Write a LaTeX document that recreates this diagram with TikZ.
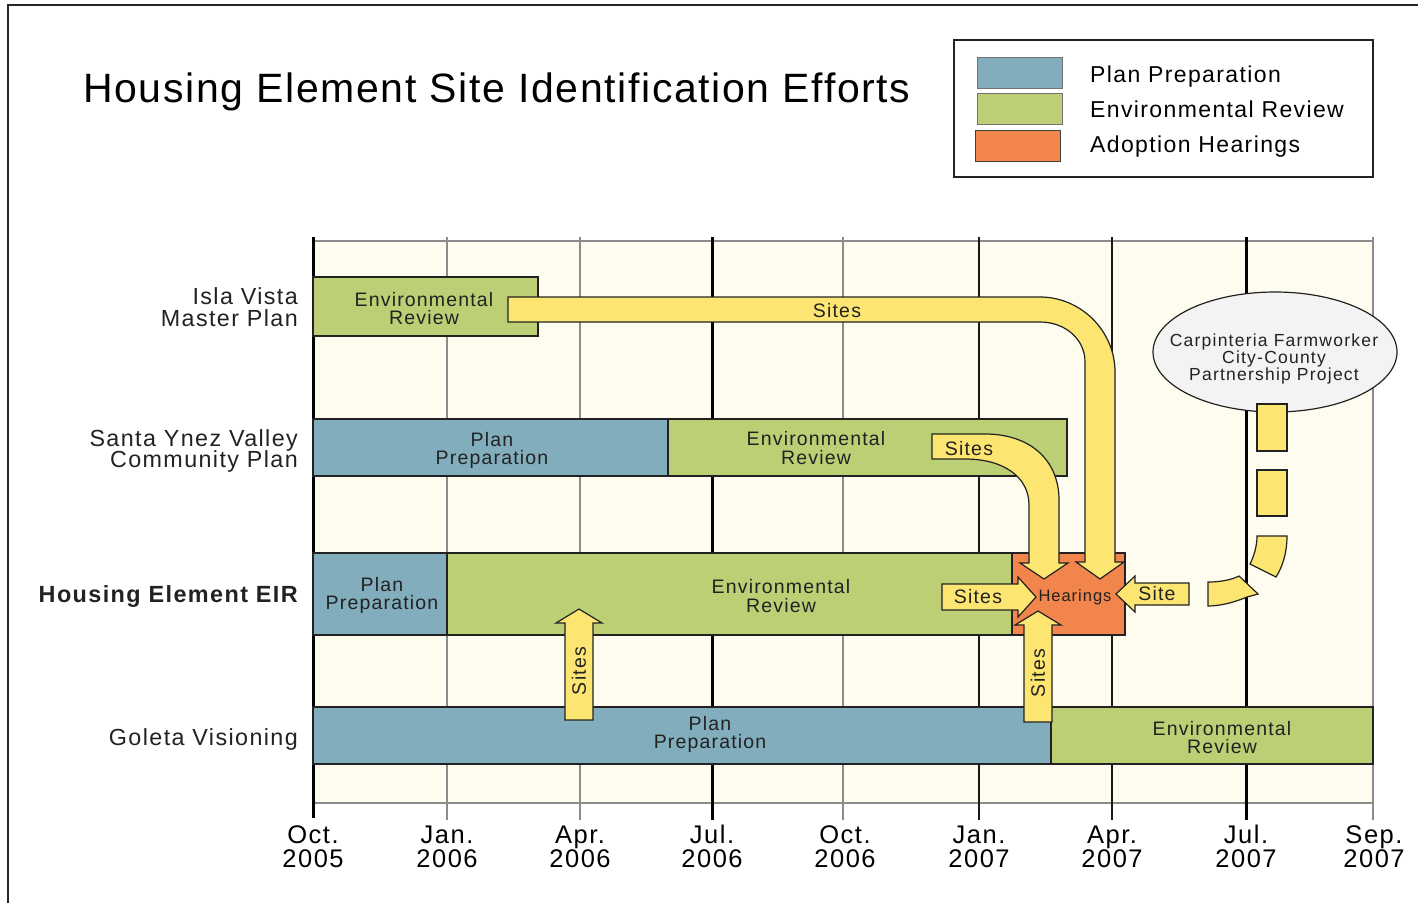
\documentclass[tikz,border=0pt]{standalone}
\usepackage{fontspec}
\setmainfont{Liberation Sans}
\newfontfamily\lsp{Liberation Sans}[LetterSpace=6]
\newfontfamily\lspe{Liberation Sans}[LetterSpace=7]
\newfontfamily\lspt{Liberation Sans}[LetterSpace=4]
\usetikzlibrary{shapes.geometric}
\newcommand\myfs[1]{\fontsize{#1}{#1}\selectfont}
\definecolor{cBlue}{HTML}{82ADBD}
\definecolor{cGreen}{HTML}{BDCF75}
\definecolor{cOrange}{HTML}{F2854C}
\definecolor{cYellow}{HTML}{FDE572}
\definecolor{cCream}{HTML}{FEFCEE}
\definecolor{cGrid}{HTML}{8C8C8C}
\definecolor{cInk}{HTML}{222222}
\definecolor{cEll}{HTML}{F3F3F3}
\begin{document}
\begin{tikzpicture}[x=1pt,y=-1pt,
 barbox/.style={draw=cInk, line width=1.2pt, inner sep=0pt},
 blu/.style={barbox, fill=cBlue},
 grn/.style={barbox, fill=cGreen},
 org/.style={barbox, fill=cOrange},
 bartxt/.style={font=\lsp\myfs{19.5}, text=cInk, inner sep=0pt, anchor=base},
 arrtxt/.style={font=\lsp\myfs{19.5}, text=cInk, inner sep=0pt},
 rowlbl/.style={font=\lsp\myfs{23.3}, text=cInk, inner sep=0pt, anchor=base east},
 axlbl/.style={font=\lsp\myfs{25.5}, text=black, inner sep=0pt, anchor=base},
 legtxt/.style={font=\lsp\myfs{23}, text=black, inner sep=0pt, anchor=base west},
 elltxt/.style={font=\lspe\myfs{17.5}, text=cInk, inner sep=0pt, anchor=base},
 swatch/.style={draw=black!55, line width=1pt, inner sep=0pt, minimum width=85pt, minimum height=31pt},
 blockarrow/.style={fill=cYellow, draw=cInk, line width=1.2pt, line join=miter},
 gridthick/.style={draw=black, line width=3pt},
 gridthin/.style={draw=black!90, line width=1.5pt},
 gridgrey/.style={draw=cGrid, line width=2.2pt},
]
\useasboundingbox (0,0) rectangle (1418,903);
\fill[white] (0,0) rectangle (1418,903);
\draw[line width=2pt, black!85] (8,903) -- (8,5) -- (1418,5);

% title
\node[anchor=base west, inner sep=0pt, font=\lspt\myfs{41}] (title) at (83,102) {Housing Element Site Identification Efforts};

% legend
\draw[line width=2.5pt, draw=cInk] (954,40) rectangle (1373,177);
\node[swatch, fill=cBlue] (swPP) at (1019.5,72.5) {};
\node[swatch, fill=cGreen] (swER) at (1019.5,109) {};
\node[swatch, fill=cOrange, draw=black!75] (swAH) at (1017.5,146) {};
\node[legtxt] (lgPP) at (1090,82) {Plan Preparation};
\node[legtxt] (lgER) at (1090,117) {Environmental Review};
\node[legtxt] (lgAH) at (1090,152) {Adoption Hearings};

% chart background and grid
\fill[cCream] (313,241) rectangle (1373,803);
\draw[cGrid, line width=2pt] (313,241) -- (1373,241);
\draw[cGrid, line width=2pt] (313,803) -- (1373,803);
\draw[gridthick] (313,237) -- (313,818);
\draw[gridgrey] (447,237) -- (447,820);
\draw[gridgrey] (580,237) -- (580,820);
\draw[gridthick] (712,237) -- (712,820);
\draw[gridgrey] (843,237) -- (843,820);
\draw[gridthin] (979,237) -- (979,820);
\draw[gridthin] (1112,237) -- (1112,820);
\draw[gridthick] (1246,237) -- (1246,820);
\draw[gridgrey] (1373,237) -- (1373,820);

% axis labels
\foreach \xx/\mm/\yy [count=\i] in {313/Oct./2005, 447/Jan./2006, 580/Apr./2006, 712/Jul./2006, 845/Oct./2006, 979/Jan./2007, 1112/Apr./2007, 1246/Jul./2007, 1374/Sep./2007}{
  \node[axlbl] (axm\i) at (\xx,843) {\mm};
  \node[axlbl] (axy\i) at (\xx,867) {\yy};
}

% row labels
\node[rowlbl] (rIV1) at (298,304) {Isla Vista};
\node[rowlbl] (rIV2) at (298,326) {Master Plan};
\node[rowlbl] (rSY1) at (298,446) {Santa Ynez Valley};
\node[rowlbl] (rSY2) at (298,467) {Community Plan};
\node[rowlbl, font=\lsp\bfseries\myfs{23.4}] (rHE) at (298,602) {Housing Element EIR};
\node[rowlbl] (rGO) at (298,745) {Goleta Visioning};

% bars
\node[grn, minimum width=225pt, minimum height=59pt] (ivER) at (425.5,306.5) {};
\node[blu, minimum width=355pt, minimum height=57pt] (syPP) at (490.5,447.5) {};
\node[grn, minimum width=399pt, minimum height=57pt] (syER) at (867.5,447.5) {};
\node[blu, minimum width=134pt, minimum height=82pt] (hePP) at (380,594) {};
\node[grn, minimum width=565pt, minimum height=82pt] (heER) at (729.5,594) {};
\node[org, minimum width=113pt, minimum height=82pt] (heAH) at (1068.5,594) {};
\node[blu, minimum width=738pt, minimum height=57pt] (goPP) at (682,735.5) {};
\node[grn, minimum width=322pt, minimum height=57pt] (goER) at (1212,735.5) {};

% bar texts
\node[bartxt] (tIV1) at (424,306) {Environmental};
\node[bartxt] (tIV2) at (424,324) {Review};
\node[bartxt] (tSY1) at (492,446) {Plan};
\node[bartxt] (tSY2) at (492,464) {Preparation};
\node[bartxt] (tSY3) at (816,445) {Environmental};
\node[bartxt] (tSY4) at (816,464) {Review};
\node[bartxt] (tHE1) at (382,591) {Plan};
\node[bartxt] (tHE2) at (382,609) {Preparation};
\node[bartxt] (tHE3) at (781,593) {Environmental};
\node[bartxt] (tHE4) at (781,612) {Review};
\node[bartxt] (tGO1) at (710,730) {Plan};
\node[bartxt] (tGO2) at (710,748) {Preparation};
\node[bartxt] (tGO3) at (1222,735) {Environmental};
\node[bartxt] (tGO4) at (1222,753) {Review};
\node[bartxt, font=\lsp\myfs{16.5}] (tHE5) at (1075,601) {Hearings};

% block arrows
\path[blockarrow] (508,297) -- (1040,297) .. controls (1081,297) and (1115,331) .. (1115,372)
  -- (1115,562) -- (1124,562) -- (1100,579) -- (1076,562) -- (1085,562) -- (1085,362)
  .. controls (1085,339) and (1065,322) .. (1040,322) -- (508,322) -- cycle;
\path[blockarrow] (932,434) -- (985,434) .. controls (1030,434) and (1059,460) .. (1059,500)
  -- (1059,563) -- (1068,563) -- (1044,579) -- (1020,563) -- (1029,563) -- (1029,505)
  .. controls (1029,478) and (1005,459) .. (965,459) -- (932,459) -- cycle;
\path[blockarrow] (942,584) -- (1018,584) -- (1018,577) -- (1036,597) -- (1018,617) -- (1018,610) -- (942,610) -- cycle;
\path[blockarrow] (1189,583) -- (1135,583) -- (1135,576) -- (1116,594) -- (1135,612) -- (1135,605) -- (1189,605) -- cycle;
\path[blockarrow] (1024,722) -- (1024,625) -- (1015,625) -- (1038,611) -- (1061,625) -- (1052,625) -- (1052,722) -- cycle;
\path[blockarrow] (565,720) -- (565,623) -- (556,623) -- (579,609) -- (602,623) -- (593,623) -- (593,720) -- cycle;

% arrow texts
\node[arrtxt, anchor=base] (aIV) at (837,317) {Sites};
\node[arrtxt, anchor=base] (aSY) at (969,455) {Sites};
\node[arrtxt, anchor=base] (aHE) at (978,603) {Sites};
\node[arrtxt, anchor=base] (aCF) at (1157,600) {Site};
\node[arrtxt, rotate=90] (aGO1) at (579,671) {Sites};
\node[arrtxt, rotate=90] (aGO2) at (1038,673) {Sites};

% Carpinteria ellipse
\node[ellipse, draw=cInk, line width=1.2pt, fill=cEll, minimum width=244pt, minimum height=120pt, inner sep=0pt] (carp) at (1275,352) {};
\node[elltxt] (cf1) at (1274,346) {Carpinteria Farmworker};
\node[elltxt] (cf2) at (1274,363) {City-County};
\node[elltxt] (cf3) at (1274,380) {Partnership Project};

% dashed curved arrow
\path[blockarrow] (1257,404) rectangle (1287,451);
\path[blockarrow] (1257,470) rectangle (1287,516);
\path[blockarrow] (1257,536) -- (1287,536) .. controls (1287,552) and (1283,566) .. (1276,577)
  -- (1250,564) .. controls (1254,556) and (1257,546) .. (1257,536) -- cycle;
\path[blockarrow] (1208,582) .. controls (1220,582) and (1231,580) .. (1239,576) -- (1258,594)
  -- (1247,597) .. controls (1235,602) and (1221,606) .. (1208,606) -- cycle;
\end{tikzpicture}
\end{document}
